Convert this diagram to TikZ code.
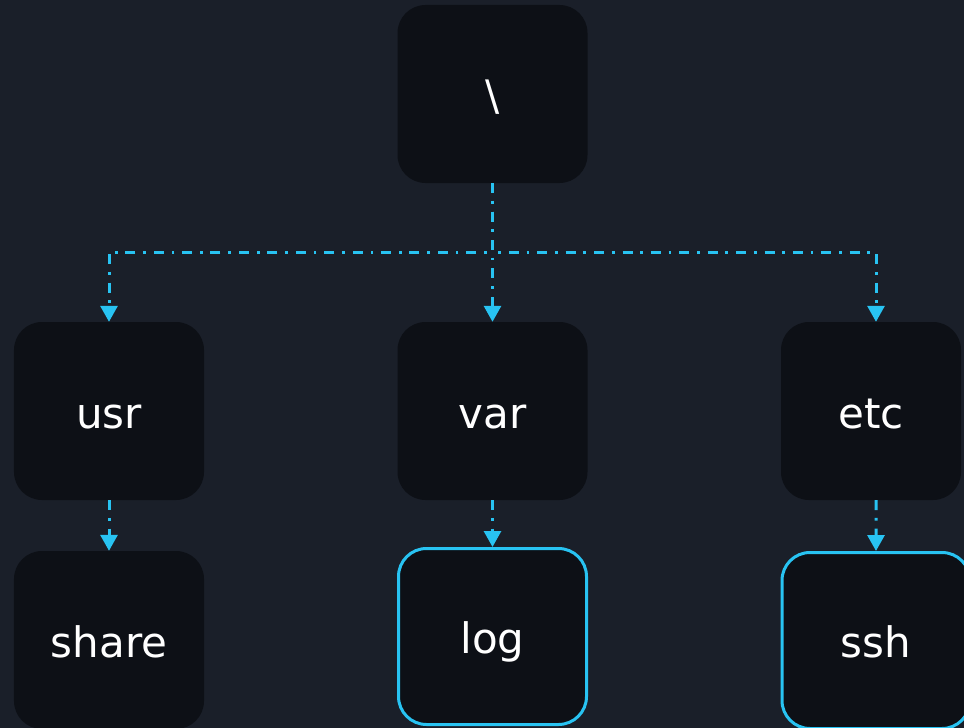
\documentclass[tikz,border=0pt]{standalone}
\usepackage{fontspec}
\setmainfont{DejaVu Sans}
\usepackage{xcolor}
\usetikzlibrary{arrows.meta}

\definecolor{bgcol}{RGB}{26,31,41}
\definecolor{boxcol}{RGB}{13,16,22}
\definecolor{linkcol}{RGB}{40,195,242}

\tikzset{
	dirbox/.style={fill=boxcol, rounded corners=28bp, minimum width=190bp, minimum height=178bp, inner sep=0pt, text=white, text height=34bp, text depth=0pt, font=\fontsize{42bp}{50bp}\selectfont},
	selbox/.style={dirbox, draw=linkcol, line width=3bp, minimum width=188bp, minimum height=176bp},
	link/.style={draw=linkcol, line width=3bp, dash pattern=on 10bp off 7.7bp on 2.7bp off 8bp, -{Triangle[width=17bp,length=16bp]}}
}

\begin{document}
\begin{tikzpicture}[x=1bp,y=1bp]
			\useasboundingbox (0,0) rectangle (964,-728);
			\fill[bgcol] (-5,5) rectangle (969,-733);

			\node[dirbox] (root) at (492.5,-94) {\textbackslash};
			\node[dirbox] (usr) at (109,-411) {usr};
			\node[dirbox] (var) at (492.5,-411) {var};
			\node[dirbox, minimum width=180bp] (etc) at (871,-411) {etc};
			\node[dirbox] (share) at (109,-640) {share};
			\node[selbox] (log) at (492.5,-636.5) {log};
			\node[selbox] (ssh) at (876,-640.5) {ssh};

			\coordinate (fork) at (492.5,-252);

			\draw[link] (root) to (var);
			\draw[link] (root.south) -- (fork) -| ([xshift=5bp]etc.north);
			\draw[link] (root.south) -- (fork) -| (usr.north);

			\draw[link] (usr) to (share);
			\draw[link] (var) to (log);
			\draw[link] ([xshift=5bp]etc.south) to (ssh);
		\end{tikzpicture}
\end{document}
